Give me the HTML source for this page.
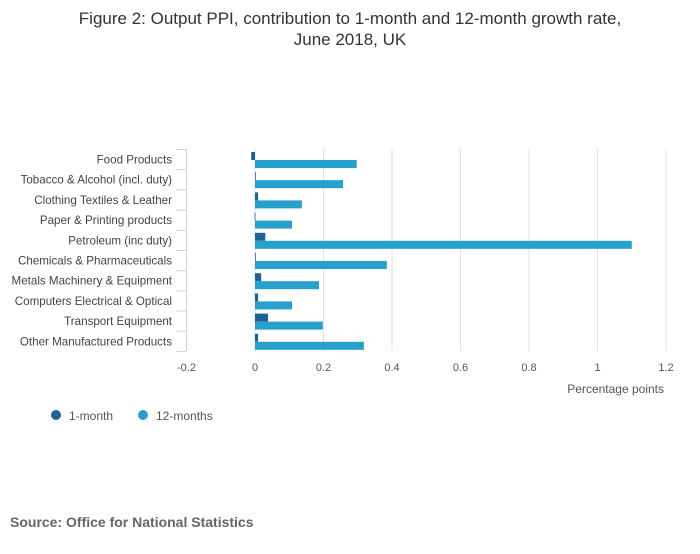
<!DOCTYPE html>
<html><head><meta charset="utf-8"><style>
body{margin:0;background:#fff;font-family:"Liberation Sans",sans-serif;}
</style></head><body>
<svg width="700" height="549" xmlns="http://www.w3.org/2000/svg" font-family="Liberation Sans, sans-serif">
<text x="350" y="24" text-anchor="middle" font-size="17" fill="#333">Figure 2: Output PPI, contribution to 1-month and 12-month growth rate,</text>
<text x="350" y="45" text-anchor="middle" font-size="17" fill="#333">June 2018, UK</text>
<g id="grid"></g><g id="bars"></g><g id="labels"></g>
<text x="664" y="393" text-anchor="end" font-size="12" fill="#555">Percentage points</text>
<circle cx="56" cy="415" r="5" fill="#206095"/>
<text x="69" y="420" font-size="12" fill="#555">1-month</text>
<circle cx="143" cy="415" r="5" fill="#27a0cc"/>
<text x="156" y="420" font-size="12" fill="#555">12-months</text>
<text x="10" y="527" font-size="14" font-weight="bold" fill="#666">Source: Office for National Statistics</text>
</svg>
<script>
const categories=["Food Products","Tobacco & Alcohol (incl. duty)","Clothing Textiles & Leather","Paper & Printing products","Petroleum (inc duty)","Chemicals & Pharmaceuticals","Metals Machinery & Equipment","Computers Electrical & Optical","Transport Equipment","Other Manufactured Products"];
const oneMonth=[-0.011,0.002,0.009,-0.001,0.03,0.002,0.018,0.009,0.038,0.009];
const twelveMonths=[0.297,0.257,0.137,0.108,1.10,0.385,0.187,0.108,0.198,0.318];
const ticks=[-0.2,0,0.2,0.4,0.6,0.8,1,1.2];
const tickLabels=["-0.2","0","0.2","0.4","0.6","0.8","1","1.2"];
const NS="http://www.w3.org/2000/svg";
const x0=255,scale=342.5,plotTop=149,band=20.2;
const X=v=>x0+v*scale;
const Y=i=>plotTop+i*band;
function mk(tag,attrs,parent,text){const e=document.createElementNS(NS,tag);for(const k in attrs)e.setAttribute(k,attrs[k]);if(text!==undefined)e.textContent=text;document.getElementById(parent).appendChild(e);return e;}
ticks.forEach((t,i)=>{
 if(t>-0.2){const g=mk("line",{x1:X(t),x2:X(t),y1:plotTop,y2:plotTop+band*10,stroke:"#e0e0e0","stroke-width":1},"grid");
 
 }
 const l=mk("text",{x:X(t),y:371,"text-anchor":"middle","font-size":11,fill:"#555"},"labels",tickLabels[i]);
 
 
});
const ax=mk("line",{x1:186.5,x2:186.5,y1:plotTop,y2:plotTop+band*10,stroke:"#ccd6eb","stroke-width":1},"grid");


for(let i=0;i<=10;i++){const t=mk("line",{x1:176,x2:186,y1:Y(i)+0.5,y2:Y(i)+0.5,stroke:"#ccd6eb","stroke-width":1},"grid");
 
 }
categories.forEach((c,i)=>{
 const y=Y(i);
 const a=oneMonth[i],b=twelveMonths[i];
 const r1=mk("rect",{x:Math.min(X(0),X(a)),y:y+3,width:Math.max(Math.abs(X(a)-X(0)),0.8),height:8,fill:"#206095"},"bars");
 
 
 const r2=mk("rect",{x:Math.min(X(0),X(b)),y:y+11,width:Math.abs(X(b)-X(0)),height:8,fill:"#27a0cc"},"bars");
 
 
 const t=mk("text",{x:172,y:y+14.5,"text-anchor":"end","font-size":11.6,fill:"#444"},"labels",c);
 
 
});
</script>
</body></html>
